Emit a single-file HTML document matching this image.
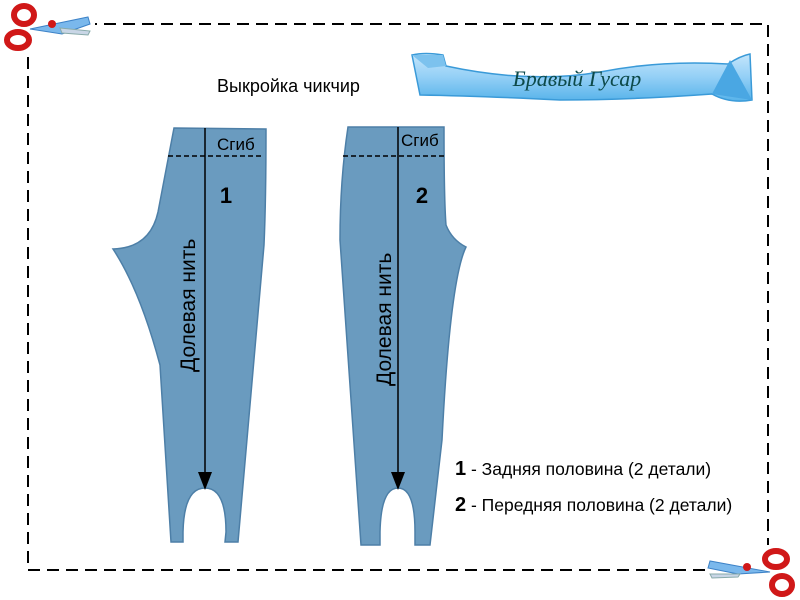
<!DOCTYPE html>
<html><head><meta charset="utf-8"><style>
html,body{margin:0;padding:0;background:#fff;width:800px;height:600px;overflow:hidden}
svg{display:block;font-family:"Liberation Sans",sans-serif}
</style></head><body>
<svg width="800" height="600" viewBox="0 0 800 600" xmlns="http://www.w3.org/2000/svg">
<defs>
<linearGradient id="rib" x1="0" y1="0" x2="0" y2="1">
<stop offset="0" stop-color="#c4e6fb"/><stop offset="0.5" stop-color="#93cff6"/><stop offset="1" stop-color="#57b3ea"/>
</linearGradient>
</defs>
<rect x="28" y="24" width="740" height="546" fill="none" stroke="#000" stroke-width="2" stroke-dasharray="12,7"/>

<rect x="0" y="0" width="95" height="55" fill="#fff"/>
<ellipse cx="24" cy="15" rx="10" ry="9" fill="none" stroke="#d01818" stroke-width="6"/>
<ellipse cx="18" cy="40" rx="11" ry="8" fill="none" stroke="#d01818" stroke-width="6"/>
<path d="M30,29 L88,17 L90,24 L62,34 Z" fill="#7ab8ec" stroke="#3d82c7"/>
<path d="M60,28 L90,31 L88,35 L62,33 Z" fill="#c9d6e6" stroke="#8aa"/>
<circle cx="52" cy="24" r="4" fill="#d01818"/>
<rect x="705" y="545" width="95" height="55" fill="#fff"/>
<ellipse cx="776" cy="559" rx="11" ry="8" fill="none" stroke="#d01818" stroke-width="6"/>
<ellipse cx="782" cy="585" rx="10" ry="9" fill="none" stroke="#d01818" stroke-width="6"/>
<path d="M770,572 L710,561 L708,568 L738,574 Z" fill="#7ab8ec" stroke="#3d82c7"/>
<path d="M740,574 L710,574 L712,578 L738,577 Z" fill="#c9d6e6" stroke="#8aa"/>
<circle cx="747" cy="567" r="4" fill="#d01818"/>

<path d="M412,55 Q425,52 443,55 L446,66 Q530,84 600,72 Q660,60 728,64 Q740,56 750,54 L752,100 Q730,104 712,94 Q630,100 560,100 Q480,96 420,95 Z" fill="url(#rib)" stroke="#3a9ad8" stroke-width="1.5"/>
<path d="M412,55 L443,55 L446,66 L428,68 Z" fill="#7cc2ee"/>
<path d="M730,60 L752,100 L712,94 Z" fill="#4aa7e3"/>
<text x="577" y="86" font-family="Liberation Serif,serif" font-style="italic" font-size="22" fill="#0d4a4a" text-anchor="middle">Бравый Гусар</text>

<text x="217" y="92" font-size="18" fill="#000">Выкройка чикчир</text>

<path d="M174,128 L266,129 Q266,200 264,245 L238,542 L225,542 L226,532 Q226,488 205,488 Q184,488 183,532 L183,542 L171,542 L160,365 Q140,290 113,249 Q150,248 158,212 Q165,175 174,128 Z" fill="#6a9bbf" stroke="#4d7fa7" stroke-width="1.5"/>
<line x1="168" y1="156" x2="262" y2="156" stroke="#000" stroke-width="1.5" stroke-dasharray="5,3"/>
<line x1="205" y1="128" x2="205" y2="475" stroke="#000" stroke-width="1.5"/>
<polygon points="198,472 212,472 205,490" fill="#000"/>
<text x="217" y="150" font-size="17">Сгиб</text>
<text x="226" y="203" font-size="22" font-weight="bold" text-anchor="middle">1</text>
<text transform="translate(195,372) rotate(-90)" font-size="21">Долевая нить</text>

<path d="M348,127 L444,127 Q444,200 446,225 Q452,240 466,247 Q450,280 442,440 L430,545 L415,545 L415,532 Q415,488 398,488 Q381,488 380,532 L380,545 L361,545 L340,240 Q340,180 348,127 Z" fill="#6a9bbf" stroke="#4d7fa7" stroke-width="1.5"/>
<line x1="343" y1="156" x2="446" y2="156" stroke="#000" stroke-width="1.5" stroke-dasharray="5,3"/>
<line x1="398" y1="127" x2="398" y2="475" stroke="#000" stroke-width="1.5"/>
<polygon points="391,472 405,472 398,490" fill="#000"/>
<text x="401" y="146" font-size="17">Сгиб</text>
<text x="422" y="203" font-size="22" font-weight="bold" text-anchor="middle">2</text>
<text transform="translate(391,386) rotate(-90)" font-size="21">Долевая нить</text>

<text x="455" y="475" font-size="17.5"><tspan font-weight="bold" font-size="20">1</tspan> - Задняя половина (2 детали)</text>
<text x="455" y="511" font-size="17.5"><tspan font-weight="bold" font-size="20">2</tspan> - Передняя половина (2 детали)</text>
</svg>
</body></html>
